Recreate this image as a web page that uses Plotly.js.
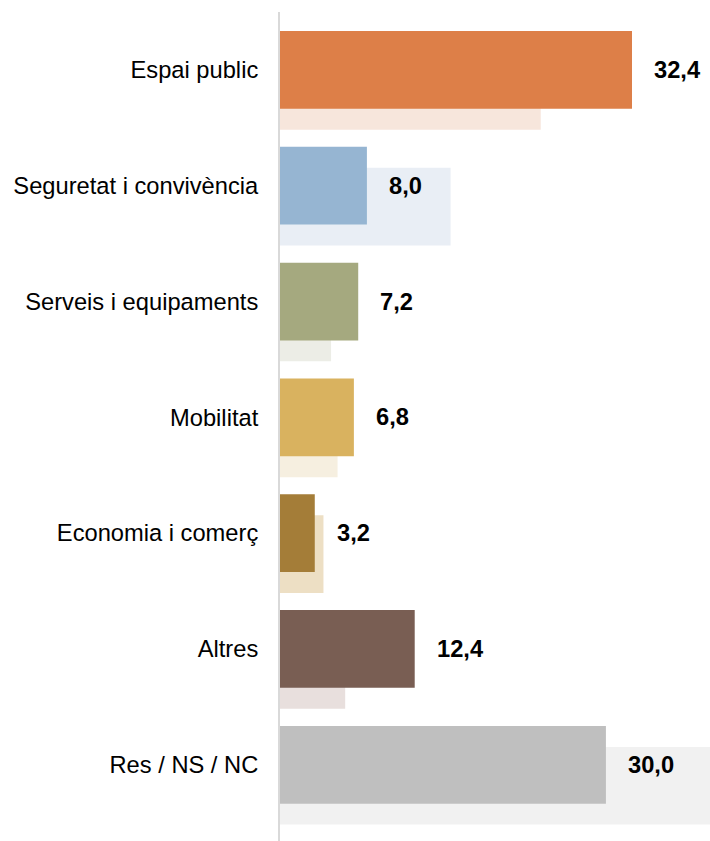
<!DOCTYPE html>
<html>
<head>
<meta charset="utf-8">
<script src="https://cdn.plot.ly/plotly-3.0.1.min.js"></script>
<style>html,body{margin:0;padding:0;background:#fff;}#chart{width:710px;height:841px;}</style>
</head>
<body>
<div id="chart"></div>
<script>
const categories = ["Espai public", "Seguretat i convivència", "Serveis i equipaments", "Mobilitat", "Economia i comerç", "Altres", "Res / NS / NC"];
const currentValues = [32.4, 8.0, 7.2, 6.8, 3.2, 12.4, 30.0];
const previousValues = [24.0, 15.7, 4.7, 5.3, 4.0, 6.0, 40.0];
const mainColors = ["#DD7F48", "#96B5D2", "#A5A97F", "#D9B25F", "#A47D38", "#795E53", "#BFBFBF"];
const lightColors = ["#F7E6DC", "#E9EEF5", "#ECEDE6", "#F6EFE0", "#EDDFC4", "#E8DFDD", "#F1F1F1"];

const FONT = "Liberation Sans, Arial, Helvetica, sans-serif";
const barW = 0.671;
const shiftDown = 0.181;

const traces = [
  {
    type: "bar", orientation: "h",
    y: categories, x: previousValues,
    width: barW, offset: -barW / 2 + shiftDown,
    marker: {color: lightColors, line: {width: 0}},
    hoverinfo: "skip", showlegend: false
  },
  {
    type: "bar", orientation: "h",
    y: categories, x: currentValues,
    width: barW, offset: -barW / 2,
    marker: {color: mainColors, line: {width: 0}},
    showlegend: false
  }
];

const annotations = categories.map((c, i) => ({
  x: currentValues[i], y: c, xref: "x", yref: "y",
  text: currentValues[i].toFixed(1).replace(".", ","),
  showarrow: false, xanchor: "left", yanchor: "middle", xshift: 20,
  font: {family: FONT, size: 23.7, color: "#000", weight: "bold"}
}));

const layout = {
  width: 710, height: 841,
  margin: {l: 280, r: 0, t: 12, b: 0, pad: 0},
  paper_bgcolor: "#fff", plot_bgcolor: "#fff",
  barmode: "overlay",
  showlegend: false,
  font: {family: FONT, size: 23.7, color: "#000"},
  xaxis: {range: [0, 39.58], showgrid: false, zeroline: false, showticklabels: false, showline: false, fixedrange: true},
  yaxis: {
    type: "category", range: [6.658, -0.5],
    showgrid: false, zeroline: false,
    showline: true, linecolor: "#D9D9D9", linewidth: 2,
    ticks: "outside", ticklen: 15, tickcolor: "rgba(0,0,0,0)",
    tickfont: {family: FONT, size: 23.7, color: "#000"},
    fixedrange: true
  },
  annotations: annotations
};

Plotly.newPlot("chart", traces, layout, {displayModeBar: false, staticPlot: true});
</script>
</body>
</html>
